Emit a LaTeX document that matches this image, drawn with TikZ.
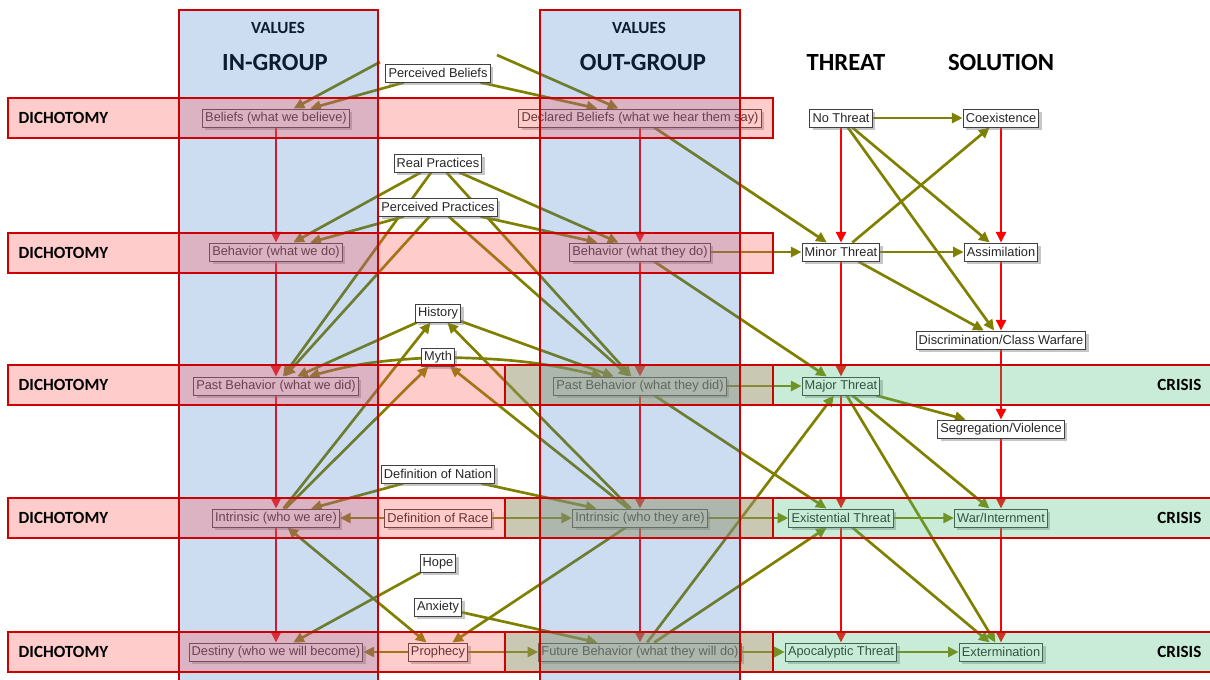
\documentclass[tikz,border=0pt]{standalone}
\usepackage{fontspec}
\newfontfamily\boxfont{Liberation Sans}
\newfontfamily\headfont{Carlito}
\usepackage{tikz}
\usetikzlibrary{arrows.meta, shadows}

\definecolor{olivearrow}{RGB}{128,128,0}
\definecolor{colblue}{RGB}{51,115,199}
\definecolor{bandpink}{RGB}{255,85,85}
\definecolor{bandgreen}{RGB}{72,192,125}
\definecolor{framered}{RGB}{204,0,0}

\pgfdeclarelayer{edgelayer}
\pgfsetlayers{edgelayer,main}

\tikzset{
  box/.style={draw=black!75, fill=white, line width=0.75pt, inner xsep=2pt, inner ysep=0pt,
    minimum height=13.5pt, text=black!85, font=\boxfont\fontsize{9.6}{11}\selectfont,
    drop shadow={shadow xshift=2.2pt, shadow yshift=-2.2pt, opacity=0.45}},
  link/.style={->, draw=olivearrow, line width=2pt},
  chain/.style={->, draw=red, line width=1.8pt},
  frame/.style={draw=framered, line width=1.1pt},
  bighead/.style={font=\headfont\bfseries\fontsize{18.5}{20}\selectfont},
  smallhead/.style={font=\headfont\bfseries\fontsize{12.8}{14}\selectfont},
}

\begin{document}
\begin{tikzpicture}[x=0.75pt, y=-0.75pt, >={Triangle[length=8pt, width=7.5pt]}]

\useasboundingbox ( 0, 0 ) rectangle ( 1210, 679 );

% Headers
\node (valIn) at ( 278, 28 ) [smallhead] {VALUES};
\node (valOut) at ( 639, 28 ) [smallhead] {VALUES};
\node (inGroup) at ( 275, 62 ) [bighead] {IN-GROUP};
\node (outGroup) at ( 643, 62 ) [bighead] {OUT-GROUP};
\node (threat) at ( 846, 62 ) [bighead] {THREAT};
\node (solution) at ( 1001, 62 ) [bighead] {SOLUTION};

% In-group column
\node (beliefsIn) at ( 276, 118 ) [box] {Beliefs (what we believe)};
\node (behavIn) at ( 276, 252 ) [box] {Behavior (what we do)};
\node (pastIn) at ( 276, 386 ) [box] {Past Behavior (what we did)};
\node (intrIn) at ( 276, 518 ) [box] {Intrinsic (who we are)};
\node (destiny) at ( 276, 652 ) [box] {Destiny (who we will become)};

% Middle column
\node (percBeliefs) at ( 438, 73 ) [box] {Perceived Beliefs};
\node (realPract) at ( 438, 163 ) [box] {Real Practices};
\node (percPract) at ( 438, 207 ) [box] {Perceived Practices};
\node (history) at ( 438, 313 ) [box] {History};
\node (myth) at ( 438, 357 ) [box] {Myth};
\node (nation) at ( 438, 474 ) [box] {Definition of Nation};
\node (race) at ( 438, 518 ) [box] {Definition of Race};
\node (hope) at ( 438, 563 ) [box] {Hope};
\node (anxiety) at ( 438, 607 ) [box] {Anxiety};
\node (prophecy) at ( 438, 652 ) [box] {Prophecy};

% Out-group column
\node (beliefsOut) at ( 640, 118 ) [box] {Declared Beliefs (what we hear them say)};
\node (behavOut) at ( 640, 252 ) [box] {Behavior (what they do)};
\node (pastOut) at ( 640, 386 ) [box] {Past Behavior (what they did)};
\node (intrOut) at ( 640, 518 ) [box] {Intrinsic (who they are)};
\node (future) at ( 640, 652 ) [box] {Future Behavior (what they will do)};

% Threat column
\node (noThreat) at ( 841, 118 ) [box] {No Threat};
\node (minor) at ( 841, 252 ) [box] {Minor Threat};
\node (major) at ( 841, 386 ) [box] {Major Threat};
\node (existential) at ( 841, 518 ) [box] {Existential Threat};
\node (apocalyptic) at ( 841, 652 ) [box] {Apocalyptic Threat};

% Solution column
\node (coexist) at ( 1001, 118 ) [box] {Coexistence};
\node (assim) at ( 1001, 252 ) [box] {Assimilation};
\node (discrim) at ( 1001, 340 ) [box] {Discrimination/Class Warfare};
\node (segreg) at ( 1001, 429 ) [box] {Segregation/Violence};
\node (war) at ( 1001, 518 ) [box] {War/Internment};
\node (extermin) at ( 1001, 652 ) [box] {Extermination};

\coordinate (topLeft) at ( 380, 62 );
\coordinate (topRight) at ( 497, 55 );

\begin{pgfonlayer}{edgelayer}
% Red chains
\draw [chain] (beliefsIn) -- (behavIn);
\draw [chain] (behavIn) -- (pastIn);
\draw [chain] (pastIn) -- (intrIn);
\draw [chain] (intrIn) -- (destiny);
\draw [chain] (beliefsOut) -- (behavOut);
\draw [chain] (behavOut) -- (pastOut);
\draw [chain] (pastOut) -- (intrOut);
\draw [chain] (intrOut) -- (future);
\draw [chain] (noThreat) -- (minor);
\draw [chain] (minor) -- (major);
\draw [chain] (major) -- (existential);
\draw [chain] (existential) -- (apocalyptic);
\draw [chain] (coexist) -- (assim);
\draw [chain] (assim) -- (discrim);
\draw [chain] (discrim) -- (segreg);
\draw [chain] (segreg) -- (war);
\draw [chain] (war) -- (extermin);

% Beliefs
\draw [link] (topLeft) -- (beliefsIn);
\draw [link] (percBeliefs) -- (beliefsIn);
\draw [link] (percBeliefs) -- (beliefsOut);
\draw [link] (topRight) -- (beliefsOut);

% Practices
\draw [link] (realPract) -- (behavIn);
\draw [link] (realPract) -- (pastIn);
\draw [link] (realPract) -- (behavOut);
\draw [link] (realPract) -- (pastOut);
\draw [link] (percPract) -- (behavIn);
\draw [link] (percPract) -- (pastIn);
\draw [link] (percPract) -- (behavOut);
\draw [link] (percPract) -- (pastOut);

% History and myth
\draw [link] (history) -- (pastIn);
\draw [link] (history) -- (pastOut);
\draw [link] (myth) to [bend right=6] (pastIn);
\draw [link] (myth) to [bend left=6] (pastOut);
\draw [link] (intrIn) -- (history);
\draw [link] (intrIn) -- (myth);
\draw [link] (intrOut) -- (history);
\draw [link] (intrOut) -- (myth);

% Nation, race, hope, anxiety, prophecy
\draw [link] (nation) -- (intrIn);
\draw [link] (nation) -- (intrOut);
\draw [link] (race) -- (intrIn);
\draw [link] (race) -- (intrOut);
\draw [link] (hope) -- (destiny);
\draw [link] (anxiety) -- (future);
\draw [link, <->] (intrIn) -- (prophecy);
\draw [link] (intrOut) -- (prophecy);
\draw [link] (prophecy) -- (destiny);
\draw [link] (prophecy) -- (future);

% Out-group to threat
\draw [link] (beliefsOut) -- (minor);
\draw [link] (behavOut) -- (minor);
\draw [link] (behavOut) -- (major);
\draw [link] (pastOut) -- (major);
\draw [link] (pastOut) -- (existential);
\draw [link] (intrOut) -- (existential);
\draw [link] (future) -- (major);
\draw [link] (future) -- (existential);
\draw [link] (future) -- (apocalyptic);

% Threat to solution
\draw [link] (noThreat) -- (coexist);
\draw [link] (noThreat) -- (assim);
\draw [link] (noThreat) -- (discrim);
\draw [link] (minor) -- (coexist);
\draw [link] (minor) -- (assim);
\draw [link] (minor) -- (discrim);
\draw [link] (major) -- (segreg);
\draw [link] (major) -- (war);
\draw [link] (major) -- (extermin);
\draw [link] (existential) -- (war);
\draw [link] (existential) -- (extermin);
\draw [link] (apocalyptic) -- (extermin);
\end{pgfonlayer}

% Value columns
\fill [colblue, fill opacity=0.25] ( 179, 10 ) rectangle ( 378, 684 );
\fill [colblue, fill opacity=0.25] ( 540, 10 ) rectangle ( 740, 684 );

% Dichotomy bands
\fill [bandpink, fill opacity=0.3] ( 8, 98 ) rectangle ( 773, 138 );
\fill [bandpink, fill opacity=0.3] ( 8, 233 ) rectangle ( 773, 273 );
\fill [bandpink, fill opacity=0.3] ( 8, 365 ) rectangle ( 773, 405 );
\fill [bandpink, fill opacity=0.3] ( 8, 498 ) rectangle ( 773, 538 );
\fill [bandpink, fill opacity=0.3] ( 8, 632 ) rectangle ( 773, 672 );

% Crisis bands
\fill [bandgreen, fill opacity=0.3] ( 505, 365 ) rectangle ( 1214, 405 );
\fill [bandgreen, fill opacity=0.3] ( 505, 498 ) rectangle ( 1214, 538 );
\fill [bandgreen, fill opacity=0.3] ( 505, 632 ) rectangle ( 1214, 672 );

% Frames
\draw [frame] ( 179, 10 ) rectangle ( 378, 684 );
\draw [frame] ( 540, 10 ) rectangle ( 740, 684 );
\draw [frame] ( 8, 98 ) rectangle ( 773, 138 );
\draw [frame] ( 8, 233 ) rectangle ( 773, 273 );
\draw [frame] ( 8, 365 ) rectangle ( 773, 405 );
\draw [frame] ( 8, 498 ) rectangle ( 773, 538 );
\draw [frame] ( 8, 632 ) rectangle ( 773, 672 );
\draw [frame] ( 505, 365 ) rectangle ( 1214, 405 );
\draw [frame] ( 505, 498 ) rectangle ( 1214, 538 );
\draw [frame] ( 505, 632 ) rectangle ( 1214, 672 );

% Labels
\node (dich1) at ( 14, 118 ) [smallhead, anchor=west] {DICHOTOMY};
\node (dich2) at ( 14, 253 ) [smallhead, anchor=west] {DICHOTOMY};
\node (dich3) at ( 14, 385 ) [smallhead, anchor=west] {DICHOTOMY};
\node (dich4) at ( 14, 518 ) [smallhead, anchor=west] {DICHOTOMY};
\node (dich5) at ( 14, 652 ) [smallhead, anchor=west] {DICHOTOMY};
\node (crisis3) at ( 1206, 385 ) [smallhead, anchor=east] {CRISIS};
\node (crisis4) at ( 1206, 518 ) [smallhead, anchor=east] {CRISIS};
\node (crisis5) at ( 1206, 652 ) [smallhead, anchor=east] {CRISIS};

\end{tikzpicture}
\end{document}
